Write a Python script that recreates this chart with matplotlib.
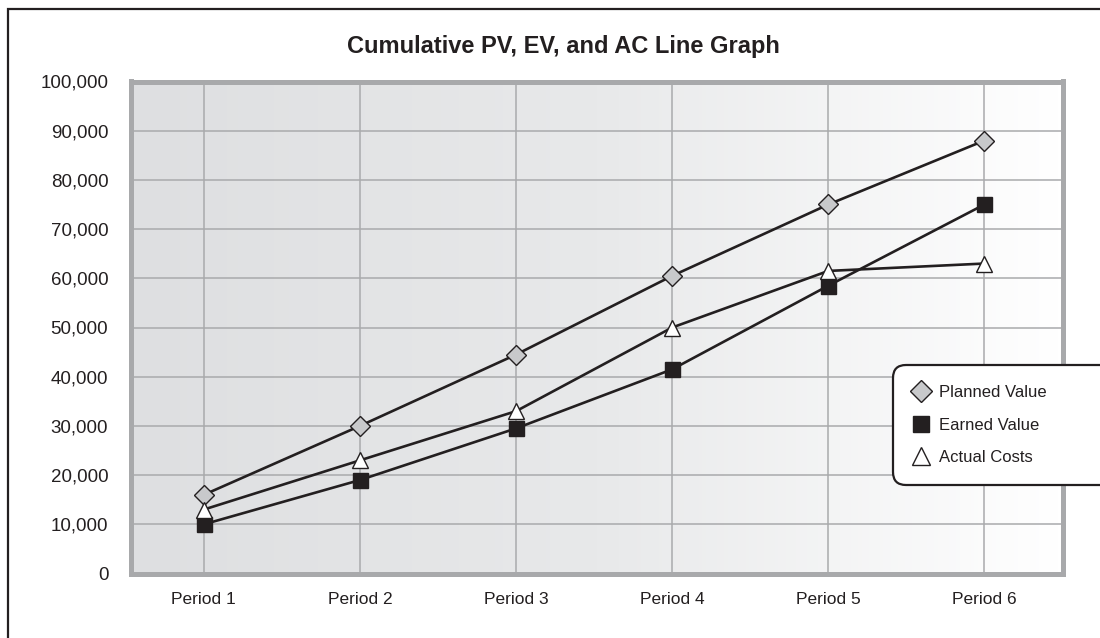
import numpy as np
import matplotlib
matplotlib.use("Agg")
import matplotlib.pyplot as plt
from matplotlib.patches import Rectangle
from matplotlib.lines import Line2D
from matplotlib.colors import LinearSegmentedColormap

# chart data
periods = ['Period 1', 'Period 2', 'Period 3', 'Period 4', 'Period 5', 'Period 6']
planned_value = [16000, 30000, 44500, 60500, 75000, 88000]
earned_value = [10000, 19000, 29500, 41500, 58500, 75000]
actual_costs = [13000, 23000, 33000, 50000, 61500, 63000]
y_ticks = list(range(0, 100001, 10000))

ink = '#231f20'
grid_col = '#a9aaac'
font = ['Liberation Sans', 'DejaVu Sans']

fig = plt.figure(figsize=(11, 6.38), dpi=100)
W, H = 1100, 638

# outer frame (left and top edges visible, rest runs off the picture)
fig.patches.append(Rectangle((8 / W, -0.2), 1.5, 1.2 - 9 / H, transform=fig.transFigure,
                             fill=False, edgecolor=ink, lw=1.6, clip_on=False))

left, right, top, bottom = 130.5, 1062.5, 81.5, 573.5
ax = fig.add_axes([left / W, 1 - bottom / H, (right - left) / W, (bottom - top) / H])

x = np.arange(len(periods))
ax.set_xlim(-0.47, 5.5)
ax.set_ylim(0, 100000)

# gray-to-white gradient background
bg = LinearSegmentedColormap.from_list('bg', ['#dedfe1', '#e8e9ea', '#ffffff'])
grad = np.linspace(0, 1, 256).reshape(1, -1)
ax.imshow(grad, extent=[-0.47, 5.5, 0, 100000], aspect='auto', cmap=bg,
          zorder=0, interpolation='bicubic')

ax.set_xticks(x)
ax.set_xticklabels(periods)
ax.set_yticks(y_ticks)
ax.set_yticklabels([f'{v:,}' for v in y_ticks])
ax.grid(True, color=grid_col, lw=1.1, zorder=1)
ax.set_axisbelow(True)
for s in ax.spines.values():
    s.set_color('#a8a9ab')
    s.set_linewidth(3.6)

ax.tick_params(axis='both', length=0, colors=ink)
ax.tick_params(axis='y', pad=16)
ax.tick_params(axis='x', pad=13)
for lab in ax.get_yticklabels():
    lab.set_family(font)
    lab.set_fontsize(13.5)
for lab in ax.get_xticklabels():
    lab.set_family(font)
    lab.set_fontsize(12.5)

styles = [
    (planned_value, 'Planned Value', dict(marker='D', ms=9.8, mfc='#c8c9cb')),
    (earned_value, 'Earned Value', dict(marker='s', ms=10.8, mfc=ink)),
    (actual_costs, 'Actual Costs', dict(marker='^', ms=11.5, mfc='white')),
]
handles = []
for i, (vals, name, st) in enumerate(styles):
    ax.plot(x, vals, color=ink, lw=1.9, mec=ink, mew=1.0, zorder=3 + i, **st)
    handles.append(Line2D([], [], linestyle='none', mec=ink, mew=1.0, label=name, **st))

fig.text(563 / W, 1 - 46 / H, 'Cumulative PV, EV, and AC Line Graph', ha='center', va='center',
         fontsize=17, fontweight='bold', family=font, color=ink)

leg = fig.legend(handles=handles, loc='upper left', bbox_to_anchor=(893 / W, 1 - 365 / H, 0.3, 0),
                 mode='expand', fancybox=True, framealpha=1, edgecolor=ink, handlelength=1.0,
                 handletextpad=0.55, labelspacing=1.05, borderpad=1.2, borderaxespad=0,
                 markerscale=1.1, prop={'family': font, 'size': 12})
leg.get_frame().set_linewidth(1.6)
leg.get_frame().set_boxstyle('round', pad=0, rounding_size=0.8)
for t in leg.get_texts():
    t.set_color(ink)

fig.savefig('out.png', dpi=100)
